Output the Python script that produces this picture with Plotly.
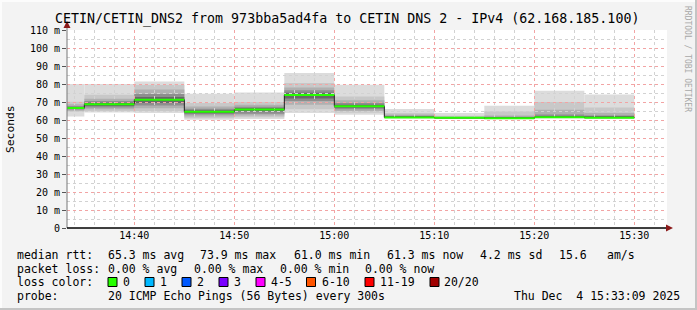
import pandas as pd
import plotly.graph_objects as go

# ---------------- data ----------------
seg_start = ["2025-12-04 14:30:00", "2025-12-04 14:35:00", "2025-12-04 14:40:00",
             "2025-12-04 14:45:00", "2025-12-04 14:50:00", "2025-12-04 14:55:00",
             "2025-12-04 15:00:00", "2025-12-04 15:05:00", "2025-12-04 15:10:00",
             "2025-12-04 15:15:00", "2025-12-04 15:20:00", "2025-12-04 15:25:00"]
seg_end = ["2025-12-04 14:35:00", "2025-12-04 14:40:00", "2025-12-04 14:45:00",
           "2025-12-04 14:50:00", "2025-12-04 14:55:00", "2025-12-04 15:00:00",
           "2025-12-04 15:05:00", "2025-12-04 15:10:00", "2025-12-04 15:15:00",
           "2025-12-04 15:20:00", "2025-12-04 15:25:00", "2025-12-04 15:30:00"]
median_rtt = [66.6, 68.7, 71.3, 64.6, 65.8, 73.9, 67.6, 61.4, 61.2, 61.0, 61.5, 61.3]

# smoke bands (ms), outermost -> innermost
smoke_lo1 = [62.0, 64.2, 63.9, 60.2, 60.5, 63.9, 62.9, 61.0, 61.0, 60.8, 61.0, 61.0]
smoke_hi1 = [80.0, 80.0, 81.4, 74.6, 75.3, 86.1, 79.6, 66.1, 63.9, 67.9, 76.3, 74.1]
smoke_lo2 = [64.6, 65.0, 65.0, 61.0, 61.5, 66.0, 64.0, 61.1, 61.05, 60.9, 61.1, 61.1]
smoke_hi2 = [70.2, 74.0, 79.5, 69.4, 70.0, 80.5, 73.1, 63.9, 62.3, 64.8, 70.0, 67.0]
smoke_lo3 = [65.2, 66.0, 66.5, 62.0, 62.5, 68.5, 65.0, 61.2, 61.1, 60.95, 61.2, 61.1]
smoke_hi3 = [68.8, 71.8, 77.0, 67.5, 68.5, 78.0, 71.0, 63.0, 61.8, 62.5, 65.7, 63.9]
smoke_lo4 = [65.8, 67.0, 68.0, 63.0, 63.5, 70.5, 66.0, 61.25, 61.15, 61.0, 61.3, 61.2]
smoke_hi4 = [67.8, 70.5, 74.5, 66.3, 67.3, 76.5, 69.5, 62.3, 61.5, 61.8, 63.0, 62.5]
smoke_lo5 = [66.2, 67.8, 69.5, 63.8, 64.8, 72.0, 66.8, 61.3, 61.2, 61.0, 61.4, 61.2]
smoke_hi5 = [67.2, 69.6, 72.8, 65.4, 66.6, 75.2, 68.5, 61.9, 61.4, 61.4, 62.2, 61.9]

x_range = ["2025-12-04 14:33:16", "2025-12-04 15:33:16"]
y_range = [0, 110]
y_ticks = [0, 10, 20, 30, 40, 50, 60, 70, 80, 90, 100, 110]
y_tick_labels = ["0", "10 m", "20 m", "30 m", "40 m", "50 m", "60 m", "70 m",
                 "80 m", "90 m", "100 m", "110 m"]

title_text = "CETIN/CETIN_DNS2 from 973bba5ad4fa to CETIN DNS 2 - IPv4 (62.168.185.100)"
rtt_legend = ["median rtt:", "65.3 ms avg", "73.9 ms max", "61.0 ms min",
              "61.3 ms now", "4.2 ms sd", "15.6", "am/s"]
loss_legend = ["packet loss:", "0.00 % avg", "0.00 % max", "0.00 % min", "0.00 % now"]
loss_labels = ["0", "1", "2", "3", "4-5", "6-10", "11-19", "20/20"]
loss_colors = ["#26ff00", "#00b8ff", "#0059ff", "#7a00ff", "#ff00ff", "#ff5500", "#ff0000", "#a00000"]
probe_legend = ["probe:", "20 ICMP Echo Pings (56 Bytes) every 300s"]
stamp_text = "Thu Dec  4 15:33:09 2025"

# ---------------- layout helpers ----------------
W, H = 697, 310
L, R, T, B = 67, 667, 30, 228


def px(x):
    return (x - L) / (R - L)


def py(y):
    return (B - y) / (B - T)


MONO = "DejaVu Sans Mono"
fig = go.Figure()

band_colors = ["#dcdcdc", "#c8c8c8", "#b0b0b0", "#8e8e8e", "#686868"]
bands = [(smoke_lo1, smoke_hi1), (smoke_lo2, smoke_hi2), (smoke_lo3, smoke_hi3),
         (smoke_lo4, smoke_hi4), (smoke_lo5, smoke_hi5)]
widths_ms = [(pd.Timestamp(e) - pd.Timestamp(s)).total_seconds() * 1000
             for s, e in zip(seg_start, seg_end)]
for (lo, hi), col in zip(bands, band_colors):
    fig.add_trace(go.Bar(
        x=seg_start, y=[h - l for l, h in zip(lo, hi)], base=lo,
        width=widths_ms, offset=0,
        marker=dict(color=col, line=dict(width=0)),
        xaxis="x", yaxis="y", hoverinfo="skip", showlegend=False))

# dark median step line
fig.add_trace(go.Scatter(
    x=seg_start + [seg_end[-1]], y=median_rtt + [median_rtt[-1]],
    mode="lines", line=dict(color="#202020", width=1, shape="hv"),
    xaxis="x2", yaxis="y2", hoverinfo="skip", showlegend=False))

# green (0 loss) median segments
gx, gy = [], []
for s, e, m in zip(seg_start, seg_end, median_rtt):
    gx += [s, e, None]
    gy += [m, m, None]
fig.add_trace(go.Scatter(
    x=gx, y=gy, mode="lines", connectgaps=False,
    line=dict(color=loss_colors[0], width=2),
    xaxis="x2", yaxis="y2", hoverinfo="skip", showlegend=False))

tickfont = dict(family=MONO, size=10, color="#000000")
fig.update_layout(
    width=W, height=H,
    margin=dict(l=L, r=W - R, t=T, b=H - B),
    paper_bgcolor="#f3f3f3",
    plot_bgcolor="rgba(0,0,0,0)",
    barmode="overlay",
    showlegend=False,
    xaxis=dict(type="date", range=x_range, domain=[0, 1], anchor="y",
               showgrid=False, showticklabels=False, zeroline=False, showline=False, ticks=""),
    yaxis=dict(range=y_range, domain=[0, 1], anchor="x",
               showgrid=False, showticklabels=False, zeroline=False, showline=False, ticks=""),
    xaxis2=dict(type="date", range=x_range, domain=[0, 1], anchor="y2",
                showgrid=True, gridcolor="#f2a4a4", griddash="dot", gridwidth=1,
                tickformat="%H:%M", dtick=600000, tick0="2025-12-04 14:40:00",
                minor=dict(dtick=120000, tick0="2025-12-04 14:40:00", showgrid=True,
                           gridcolor="#d2d2d2", griddash="dot", gridwidth=1),
                ticks="", tickfont=tickfont, zeroline=False, showline=False),
    yaxis2=dict(range=y_range, domain=[0, 1], anchor="x2",
                tickvals=y_ticks, ticktext=y_tick_labels,
                showgrid=True, gridcolor="#f2a4a4", griddash="dot", gridwidth=1,
                minor=dict(dtick=5, showgrid=True, gridcolor="#d2d2d2", griddash="dot", gridwidth=1),
                ticks="outside", ticklen=4, tickcolor="#555555", tickfont=tickfont,
                zeroline=False, showline=False),
)

shapes = []
# white canvas behind plot
shapes.append(dict(type="rect", xref="paper", yref="paper", x0=0, x1=1, y0=0, y1=1,
                   fillcolor="#ffffff", line=dict(width=0), layer="below"))
# frame of the image
shapes.append(dict(type="line", xref="paper", yref="paper", x0=px(0), x1=px(W), y0=py(1), y1=py(1),
                   line=dict(color="#fcfcfc", width=2)))
shapes.append(dict(type="line", xref="paper", yref="paper", x0=px(1), x1=px(1), y0=py(0), y1=py(H),
                   line=dict(color="#fcfcfc", width=2)))
shapes.append(dict(type="line", xref="paper", yref="paper", x0=px(0), x1=px(W), y0=py(H - 1), y1=py(H - 1),
                   line=dict(color="#c4c4c4", width=2)))
shapes.append(dict(type="line", xref="paper", yref="paper", x0=px(W - 1), x1=px(W - 1), y0=py(0), y1=py(H),
                   line=dict(color="#c4c4c4", width=2)))
# axis lines
shapes.append(dict(type="line", xref="paper", yref="paper", x0=px(L), x1=px(L), y0=py(B), y1=py(25),
                   line=dict(color="#777777", width=1)))
shapes.append(dict(type="line", xref="paper", yref="paper", x0=px(L), x1=px(669), y0=py(B), y1=py(B),
                   line=dict(color="#000000", width=1.5)))
# arrows
shapes.append(dict(type="path", xref="paper", yref="paper",
                   path=f"M {px(L-3.5)} {py(28)} L {px(L+3.5)} {py(28)} L {px(L)} {py(21)} Z",
                   fillcolor="#8b1a1a", line=dict(width=0)))
shapes.append(dict(type="path", xref="paper", yref="paper",
                   path=f"M {px(666)} {py(B-3.5)} L {px(666)} {py(B+3.5)} L {px(673)} {py(B)} Z",
                   fillcolor="#8b1a1a", line=dict(width=0)))

annotations = []
LEG = 11.5


def text(x, y, s, size=LEG, anchor="left", color="#000000", angle=0):
    annotations.append(dict(xref="paper", yref="paper", x=px(x), y=py(y), text=s,
                            showarrow=False, xanchor=anchor, yanchor="middle",
                            textangle=angle, borderpad=0,
                            font=dict(family=MONO, size=size, color=color)))


text(346.5, 19, title_text, size=13.3, anchor="center")
text(10, 129, "Seconds", size=11.3, anchor="center", angle=-90)
text(688, 59, "RRDTOOL / TOBI OETIKER", size=8, anchor="center", color="#a8a8a8", angle=90)

rtt_x = [16, 107, 199, 292.5, 386, 478.5, 558, 606]
for x, s in zip(rtt_x, rtt_legend):
    text(x, 255, s)
loss_x = [16, 107, 193, 278.5, 364]
for x, s in zip(loss_x, loss_legend):
    text(x, 268.5, s)
text(16, 282, "loss color:")
box_x = [108, 145, 182, 219, 256, 306.5, 365, 430]
lab_x = [122, 159, 196, 233, 270, 320.5, 379, 443.5]
for bx, lx, lab, col in zip(box_x, lab_x, loss_labels, loss_colors):
    shapes.append(dict(type="rect", xref="paper", yref="paper",
                       x0=px(bx), x1=px(bx + 9), y0=py(277.5), y1=py(286.5),
                       fillcolor=col, line=dict(color="#000000", width=1)))
    text(lx, 282, lab)
text(16, 296, probe_legend[0])
text(107, 296, probe_legend[1])
text(681, 296, stamp_text, anchor="right")

fig.update_layout(shapes=shapes, annotations=annotations)
fig.write_html("out.html")
